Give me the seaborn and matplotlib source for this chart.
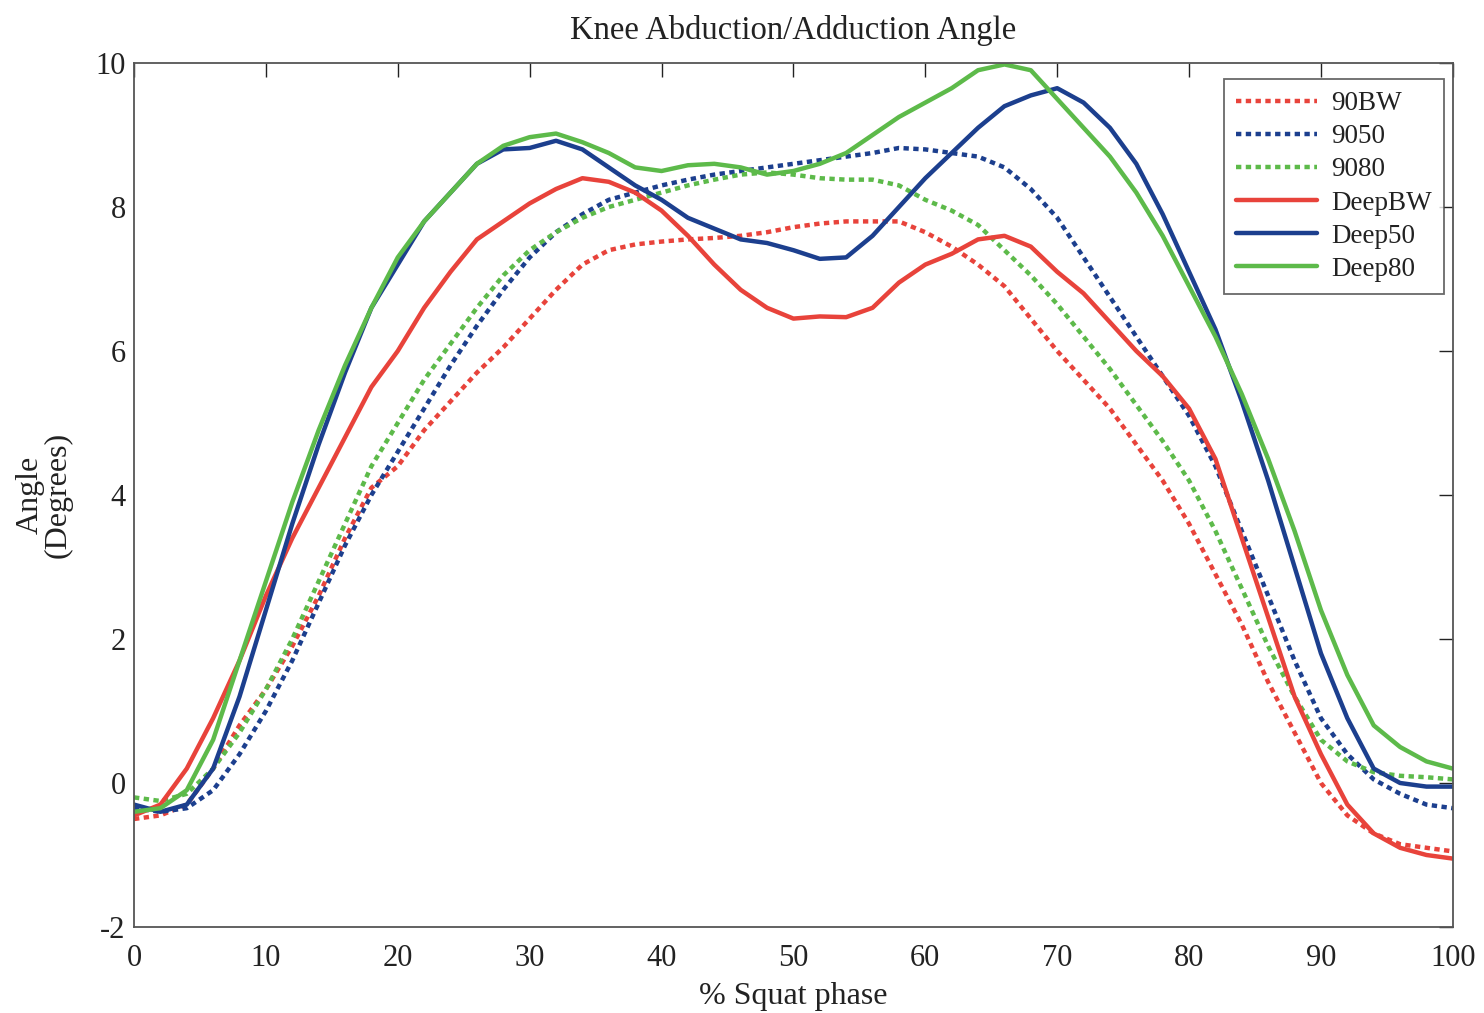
import numpy as np
import pandas as pd
import matplotlib
matplotlib.use("Agg")
import matplotlib.pyplot as plt
import seaborn as sns

phase = [0, 2, 4, 6, 8, 10, 12, 14, 16, 18, 20, 22, 24, 26, 28, 30, 32, 34, 36, 38,
         40, 42, 44, 46, 48, 50, 52, 54, 56, 58, 60, 62, 64, 66, 68, 70, 72, 74, 76, 78,
         80, 82, 84, 86, 88, 90, 92, 94, 96, 98, 100]

bw_90 = [-0.5, -0.45, -0.3, 0.2, 0.8, 1.3, 1.9, 2.6, 3.4, 4.1, 4.4, 4.9, 5.3, 5.7, 6.05,
         6.45, 6.85, 7.2, 7.4, 7.48, 7.52, 7.55, 7.57, 7.6, 7.65, 7.72, 7.77, 7.8, 7.8,
         7.8, 7.65, 7.45, 7.2, 6.9, 6.45, 6.0, 5.6, 5.2, 4.7, 4.2, 3.6, 2.9, 2.2, 1.4,
         0.7, 0.0, -0.45, -0.7, -0.85, -0.9, -0.95]

w50_90 = [-0.35, -0.4, -0.35, -0.1, 0.4, 1.0, 1.7, 2.5, 3.3, 4.0, 4.6, 5.2, 5.8, 6.35,
          6.85, 7.3, 7.65, 7.9, 8.1, 8.2, 8.3, 8.38, 8.45, 8.5, 8.55, 8.6, 8.65, 8.7,
          8.75, 8.82, 8.8, 8.75, 8.7, 8.55, 8.25, 7.85, 7.3, 6.75, 6.2, 5.65, 5.1, 4.4,
          3.5, 2.6, 1.7, 0.9, 0.4, 0.05, -0.15, -0.3, -0.35]

w80_90 = [-0.2, -0.25, -0.15, 0.2, 0.7, 1.3, 2.0, 2.8, 3.6, 4.4, 5.0, 5.6, 6.1, 6.6,
          7.05, 7.4, 7.65, 7.85, 8.0, 8.1, 8.2, 8.3, 8.38, 8.45, 8.48, 8.45, 8.4, 8.38,
          8.38, 8.3, 8.1, 7.95, 7.75, 7.4, 7.05, 6.65, 6.2, 5.75, 5.25, 4.75, 4.2, 3.5,
          2.7, 1.9, 1.2, 0.6, 0.3, 0.15, 0.1, 0.08, 0.05]

deep_bw = [-0.45, -0.3, 0.2, 0.9, 1.7, 2.6, 3.4, 4.1, 4.8, 5.5, 6.0, 6.6, 7.1, 7.55,
           7.8, 8.05, 8.25, 8.4, 8.35, 8.2, 7.95, 7.6, 7.2, 6.85, 6.6, 6.45, 6.48, 6.47,
           6.6, 6.95, 7.2, 7.35, 7.55, 7.6, 7.45, 7.1, 6.8, 6.4, 6.0, 5.65, 5.2, 4.5,
           3.4, 2.3, 1.2, 0.4, -0.3, -0.7, -0.9, -1.0, -1.05]

deep_50 = [-0.3, -0.4, -0.3, 0.2, 1.2, 2.4, 3.6, 4.7, 5.7, 6.6, 7.2, 7.8, 8.2, 8.6,
           8.8, 8.82, 8.92, 8.8, 8.55, 8.3, 8.1, 7.85, 7.7, 7.55, 7.5, 7.4, 7.28, 7.3,
           7.6, 8.0, 8.4, 8.75, 9.1, 9.4, 9.55, 9.65, 9.45, 9.1, 8.6, 7.9, 7.1, 6.3,
           5.3, 4.2, 3.0, 1.8, 0.9, 0.2, 0.0, -0.05, -0.05]

deep_80 = [-0.4, -0.35, -0.1, 0.6, 1.7, 2.8, 3.9, 4.9, 5.8, 6.6, 7.3, 7.8, 8.2, 8.6,
           8.85, 8.97, 9.02, 8.9, 8.75, 8.55, 8.5, 8.58, 8.6, 8.55, 8.45, 8.5, 8.6,
           8.75, 9.0, 9.25, 9.45, 9.65, 9.9, 9.98, 9.9, 9.5, 9.1, 8.7, 8.2, 7.6, 6.9,
           6.2, 5.4, 4.5, 3.5, 2.4, 1.5, 0.8, 0.5, 0.3, 0.2]

labels = ["90BW", "9050", "9080", "DeepBW", "Deep50", "Deep80"]
series = [bw_90, w50_90, w80_90, deep_bw, deep_50, deep_80]

red, blue, green = "#e8433b", "#1c3f8e", "#5dba4a"
colors = [red, blue, green, red, blue, green]
dashed = [True, True, True, False, False, False]

df = pd.concat(
    [pd.DataFrame({"phase": phase, "angle": vals, "cond": lab})
     for lab, vals in zip(labels, series)],
    ignore_index=True,
)

sns.set_theme(style="white")
plt.rcParams["font.family"] = ["Liberation Serif", "DejaVu Serif"]
plt.rcParams["axes.unicode_minus"] = False

fig = plt.figure(figsize=(14.84, 10.13), dpi=100)
ax = fig.add_axes([0.0903, 0.0849, 0.8887, 0.8529])

for lab, col, dash in zip(labels, colors, dashed):
    sub = df[df["cond"] == lab]
    sns.lineplot(data=sub, x="phase", y="angle", ax=ax, color=col,
                 linewidth=3.2, label=lab, estimator=None)
    line = ax.get_lines()[-1]
    line.set_solid_joinstyle("round")
    if dash:
        line.set_dashes([1.2, 1.0])

ax.set_xlim(0, 100)
ax.set_ylim(-2, 10)
ax.set_xticks(range(0, 101, 10))
ax.set_yticks(range(-2, 11, 2))
ax.tick_params(direction="in", length=10, width=1, labelsize=22, colors="#222222",
               top=True, right=True)
ax.tick_params(axis="x", pad=12)
ax.tick_params(axis="y", pad=6)
for sp in ax.spines.values():
    sp.set_color("#555555")
    sp.set_linewidth(1.3)

ax.set_title("Knee Abduction/Adduction Angle", fontsize=23.5, pad=17, color="#222222")
ax.set_xlabel("% Squat phase", fontsize=23, labelpad=7, color="#222222")
ax.set_ylabel("Angle\n(Degrees)", fontsize=23, labelpad=16, color="#222222",
              linespacing=0.95)

leg = ax.legend(loc="upper right", bbox_to_anchor=(0.9932, 0.9815), fontsize=19.5,
                frameon=True, fancybox=False, handlelength=3.0, handletextpad=0.5,
                labelspacing=0.3, borderpad=0.45, borderaxespad=0)
leg.get_frame().set_edgecolor("#444444")
leg.get_frame().set_linewidth(1.3)
for t in leg.get_texts():
    t.set_color("#222222")

fig.savefig("out.png", dpi=100, facecolor="white")
